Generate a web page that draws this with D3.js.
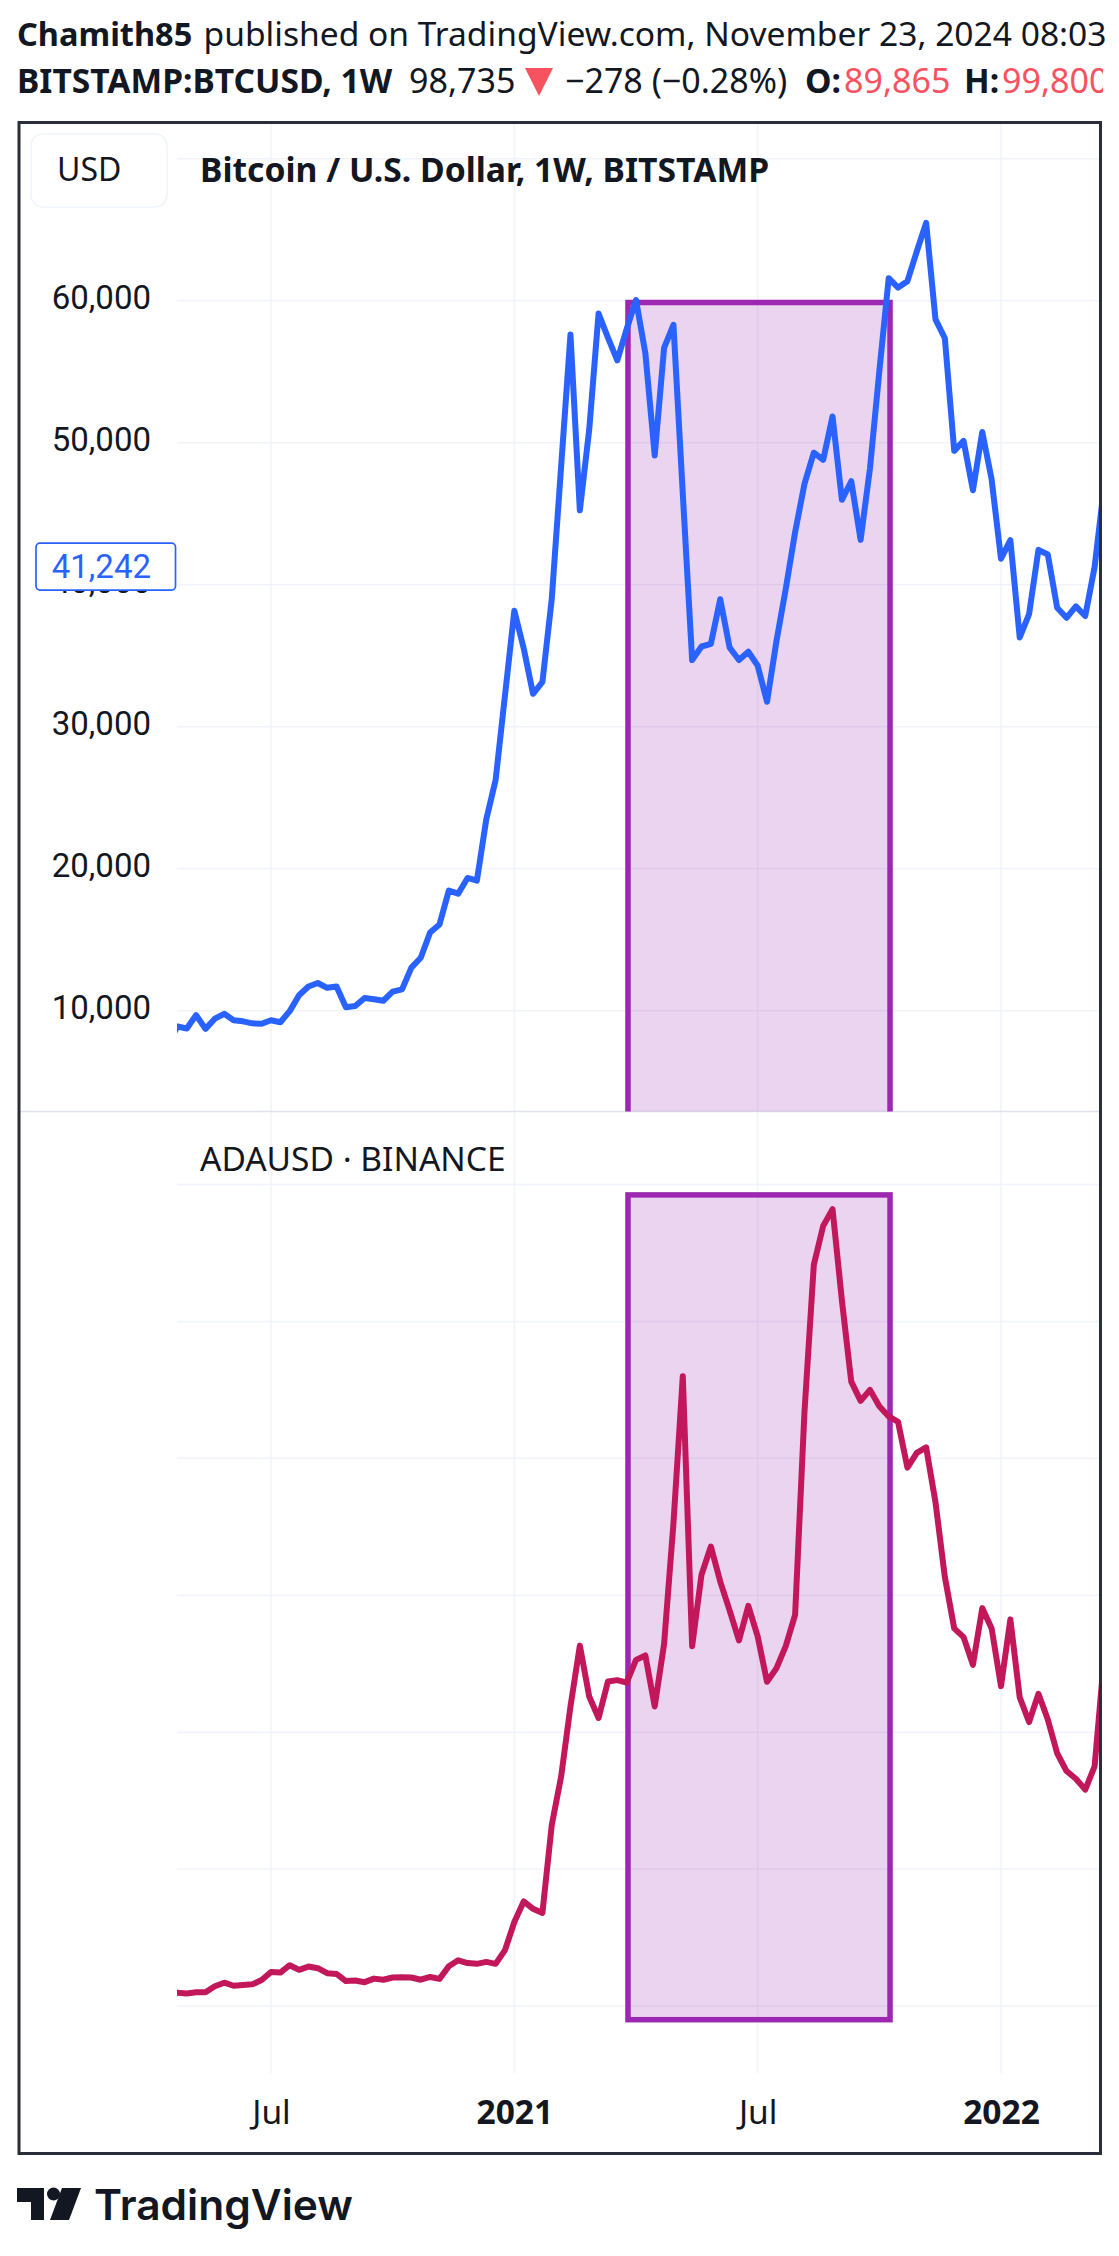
<!DOCTYPE html>
<html>
<head>
<meta charset="utf-8">
<script src="https://cdn.jsdelivr.net/npm/d3@7"></script>
<style>
  html, body { margin: 0; padding: 0; background: #fff; overflow: hidden; }
  svg { display: block; }
</style>
</head>
<body>
<svg id="chart"></svg>
<script>
// weekly closes, first one is the week of 20 Apr 2020
var firstWeek = new Date(Date.UTC(2020, 3, 20));

var btcClose = [7700, 8890, 8750, 9690, 8720, 9440, 9780, 9330, 9250, 9110, 9080,
    9330, 9190, 9970, 11085, 11700, 11950, 11610, 11700, 10250, 10330,
    10890, 10800, 10700, 11340, 11500, 13030, 13730, 15510, 16070, 18460,
    18240, 19350, 19160, 23470, 26250, 32200,
    38170, 35520, 32320, 33150, 39000, 48330, 57620, 45240, 50920, 59100,
    57400, 55810, 58000, 60050, 56300, 49100, 56680, 58310, 46400, 34700,
    35650, 35830, 38980, 35580, 34700, 35280, 34300, 31760, 36000, 39700,
    43700, 47100, 49300, 48800, 51850, 45980, 47290, 43160, 48200, 55040,
    61590, 60930, 61380, 63470, 65490, 58690, 57360, 49430, 50130, 46660,
    50760, 47410, 41830, 43140, 36290, 37930, 42460, 42130, 38380, 37670,
    38480, 37800, 41242, 46850];

var adaClose = [0.048, 0.048, 0.046, 0.050, 0.050, 0.072, 0.085, 0.074, 0.077, 0.079, 0.095,
    0.124, 0.122, 0.149, 0.132, 0.144, 0.138, 0.120, 0.117, 0.091, 0.093,
    0.087, 0.100, 0.096, 0.104, 0.105, 0.104, 0.096, 0.106, 0.099, 0.145,
    0.167, 0.157, 0.154, 0.161, 0.154, 0.204,
    0.307, 0.382, 0.355, 0.340, 0.661, 0.838, 1.094, 1.316, 1.130, 1.052,
    1.185, 1.190, 1.181, 1.264, 1.280, 1.094, 1.322, 1.762, 2.300, 1.314,
    1.575, 1.678, 1.550, 1.445, 1.335, 1.461, 1.350, 1.184, 1.233, 1.314,
    1.428, 2.169, 2.707, 2.849, 2.910, 2.577, 2.280, 2.210, 2.250, 2.190,
    2.153, 2.133, 1.966, 2.020, 2.040, 1.840, 1.567, 1.379, 1.347, 1.246,
    1.453, 1.379, 1.168, 1.412, 1.127, 1.037, 1.140, 1.046, 0.923, 0.858,
    0.830, 0.790, 0.875, 1.265];

var priceTicks = [10000, 20000, 30000, 40000, 50000, 60000];
var priceGrid = [10000, 20000, 30000, 40000, 50000, 60000, 70000];
var adaGrid = [0, 0.5, 1, 1.5, 2, 2.5, 3];
var timeTicks = [new Date(Date.UTC(2020, 6, 6)), new Date(Date.UTC(2021, 0, 4)),
                 new Date(Date.UTC(2021, 6, 5)), new Date(Date.UTC(2022, 0, 3))];
var timeLabels = ["Jul", "2021", "Jul", "2022"];

// the highlighted period, same dates in both panes
var boxStart = new Date(Date.UTC(2021, 2, 30));
var boxEnd = new Date(Date.UTC(2021, 9, 12));
var boxBtc = [59880, 1500];
var boxAda = [2.962, -0.05];
var lastPrice = 41242;

var width = 1119, height = 2256;
var frame = { left: 19, right: 1100.5, top: 122.5, bottom: 2153.5 };
var plotLeft = 177, plotRight = 1099;
var paneSplit = 1111.5, axisTop = 2073;
var ink = "#131722", red = "#f7525f", blue = "#2962ff", crimson = "#c2185b", purple = "#9c27b0";
var sans = "'Noto Sans', sans-serif";

var svg = d3.select("#chart").attr("width", width).attr("height", height);

var x = d3.scaleUtc().domain([timeTicks[0], timeTicks[3]]).range([271, 1001]);
var yBtc = d3.scaleLinear().domain([10000, 70000]).range([1010.7, 158.8]);
var yAda = d3.scaleLinear().domain([0, 3]).range([2006, 1184.5]);

function weekOf(i) { return d3.utcMonday.offset(firstWeek, i); }

var defs = svg.append("defs");
defs.append("clipPath").attr("id", "clipTop").append("rect")
    .attr("x", plotLeft).attr("y", frame.top).attr("width", plotRight - plotLeft).attr("height", paneSplit - frame.top);
defs.append("clipPath").attr("id", "clipBottom").append("rect")
    .attr("x", plotLeft).attr("y", paneSplit).attr("width", plotRight - plotLeft).attr("height", axisTop - paneSplit);

// grid
svg.selectAll(".vgrid").data(timeTicks).enter().append("line")
    .attr("class", "vgrid")
    .attr("x1", function (d) { return x(d); }).attr("x2", function (d) { return x(d); })
    .attr("y1", frame.top).attr("y2", axisTop)
    .attr("stroke", "#f0f3fa").attr("stroke-width", 1.5);

svg.selectAll(".hgridBtc").data(priceGrid).enter().append("line")
    .attr("class", "hgridBtc")
    .attr("x1", plotLeft).attr("x2", plotRight)
    .attr("y1", function (d) { return yBtc(d); }).attr("y2", function (d) { return yBtc(d); })
    .attr("stroke", "#f0f3fa").attr("stroke-width", 1.5);

svg.selectAll(".hgridAda").data(adaGrid).enter().append("line")
    .attr("class", "hgridAda")
    .attr("x1", plotLeft).attr("x2", plotRight)
    .attr("y1", function (d) { return yAda(d); }).attr("y2", function (d) { return yAda(d); })
    .attr("stroke", "#f0f3fa").attr("stroke-width", 1.5);

svg.append("line")
    .attr("x1", frame.left).attr("x2", frame.right)
    .attr("y1", paneSplit).attr("y2", paneSplit)
    .attr("stroke", "#e0e3eb").attr("stroke-width", 1.5);

// highlight boxes
function box(y, range, clip) {
    svg.append("rect")
        .attr("clip-path", "url(#" + clip + ")")
        .attr("x", x(boxStart))
        .attr("y", y(range[0]))
        .attr("width", x(boxEnd) - x(boxStart))
        .attr("height", y(range[1]) - y(range[0]))
        .attr("fill", purple).attr("fill-opacity", 0.2)
        .attr("stroke", purple).attr("stroke-width", 5.5);
}
box(yBtc, boxBtc, "clipTop");
box(yAda, boxAda, "clipBottom");

// lines
function drawLine(values, y, colour, clip) {
    var line = d3.line()
        .x(function (d, i) { return x(weekOf(i)); })
        .y(function (d) { return y(d); });
    svg.append("path")
        .datum(values)
        .attr("clip-path", "url(#" + clip + ")")
        .attr("fill", "none")
        .attr("stroke", colour)
        .attr("stroke-width", 6)
        .attr("stroke-linejoin", "round")
        .attr("stroke-linecap", "round")
        .attr("d", line);
}
drawLine(btcClose, yBtc, blue, "clipTop");
drawLine(adaClose, yAda, crimson, "clipBottom");

// price axis
var priceAxis = d3.axisLeft(yBtc).tickValues(priceTicks).tickFormat(d3.format(",")).tickSize(0).tickPadding(26);
var gPrice = svg.append("g").attr("transform", "translate(177,-3)").call(priceAxis);
gPrice.select(".domain").remove();
gPrice.selectAll("text")
    .attr("font-family", "Roboto, sans-serif").attr("font-size", 33).attr("fill", ink);

// current price label on top of the axis
svg.append("rect")
    .attr("x", 36).attr("y", yBtc(lastPrice) - 24)
    .attr("width", 139.5).attr("height", 47)
    .attr("rx", 4).attr("fill", "#fff")
    .attr("stroke", blue).attr("stroke-width", 1.7);
svg.append("text")
    .attr("x", 151).attr("y", yBtc(lastPrice) + 11)
    .attr("text-anchor", "end")
    .attr("font-family", "Roboto, sans-serif").attr("font-size", 33).attr("fill", blue)
    .text(d3.format(",")(lastPrice));

// time axis
var timeAxis = d3.axisBottom(x).tickValues(timeTicks)
    .tickFormat(function (d, i) { return timeLabels[i]; }).tickSize(0).tickPadding(27);
var gTime = svg.append("g").attr("transform", "translate(0," + axisTop + ")").call(timeAxis);
gTime.select(".domain").remove();
gTime.selectAll("text")
    .attr("font-family", sans).attr("font-size", 33.5).attr("fill", ink)
    .attr("font-weight", function (d, i) { return i % 2 ? 700 : 400; });

// frame
svg.append("rect")
    .attr("x", frame.left).attr("y", frame.top)
    .attr("width", frame.right - frame.left).attr("height", frame.bottom - frame.top)
    .attr("fill", "none").attr("stroke", "#2a2e39").attr("stroke-width", 3);

// legend
svg.append("rect")
    .attr("x", 31).attr("y", 134).attr("width", 136).attr("height", 73)
    .attr("rx", 12).attr("fill", "#fff").attr("stroke", "#f0f3fa").attr("stroke-width", 1.5);

function label(txt, px, py, size, weight, colour, family) {
    return svg.append("text")
        .attr("x", px).attr("y", py)
        .attr("font-family", family || sans).attr("font-size", size)
        .attr("font-weight", weight).attr("fill", colour)
        .text(txt);
}
label("USD", 57, 181, 32, 400, ink);
label("Bitcoin / U.S. Dollar, 1W, BITSTAMP", 200, 182, 33.7, 700, ink);
label("ADAUSD · BINANCE", 200, 1171, 33.5, 400, ink);

// header
label("Chamith85", 17, 46, 32.5, 700, ink);
label("published on TradingView.com, November 23, 2024 08:03", 203.5, 46, 33.6, 400, ink);
label("BITSTAMP:BTCUSD, 1W", 17, 93, 33.6, 700, ink);
label("98,735", 409, 93, 34, 400, ink);
svg.append("path").attr("d", "M525 68H553L539 96Z").attr("fill", red);
label("−278 (−0.28%)", 565, 93, 34, 400, ink);
label("O:", 805, 93, 33.6, 700, ink);
label("89,865", 844, 93, 34, 400, red);
label("H:", 964, 93, 33.6, 700, ink);
defs.append("clipPath").attr("id", "clipHeader").append("rect")
    .attr("x", 0).attr("y", 50).attr("width", 1103).attr("height", 60);
label("99,800", 1002, 93, 34, 400, red).attr("clip-path", "url(#clipHeader)");

// TradingView mark
var logo = svg.append("g").attr("fill", ink);
logo.append("path").attr("d", "M17 2188H44V2220H31V2202H17Z");
logo.append("circle").attr("cx", 53.5).attr("cy", 2194).attr("r", 6.5);
logo.append("path").attr("d", "M62 2188H81L69 2220H50Z");
label("TradingView", 94, 2220, 42.5, 600, ink, "Inter, sans-serif");
</script>
</body>
</html>
